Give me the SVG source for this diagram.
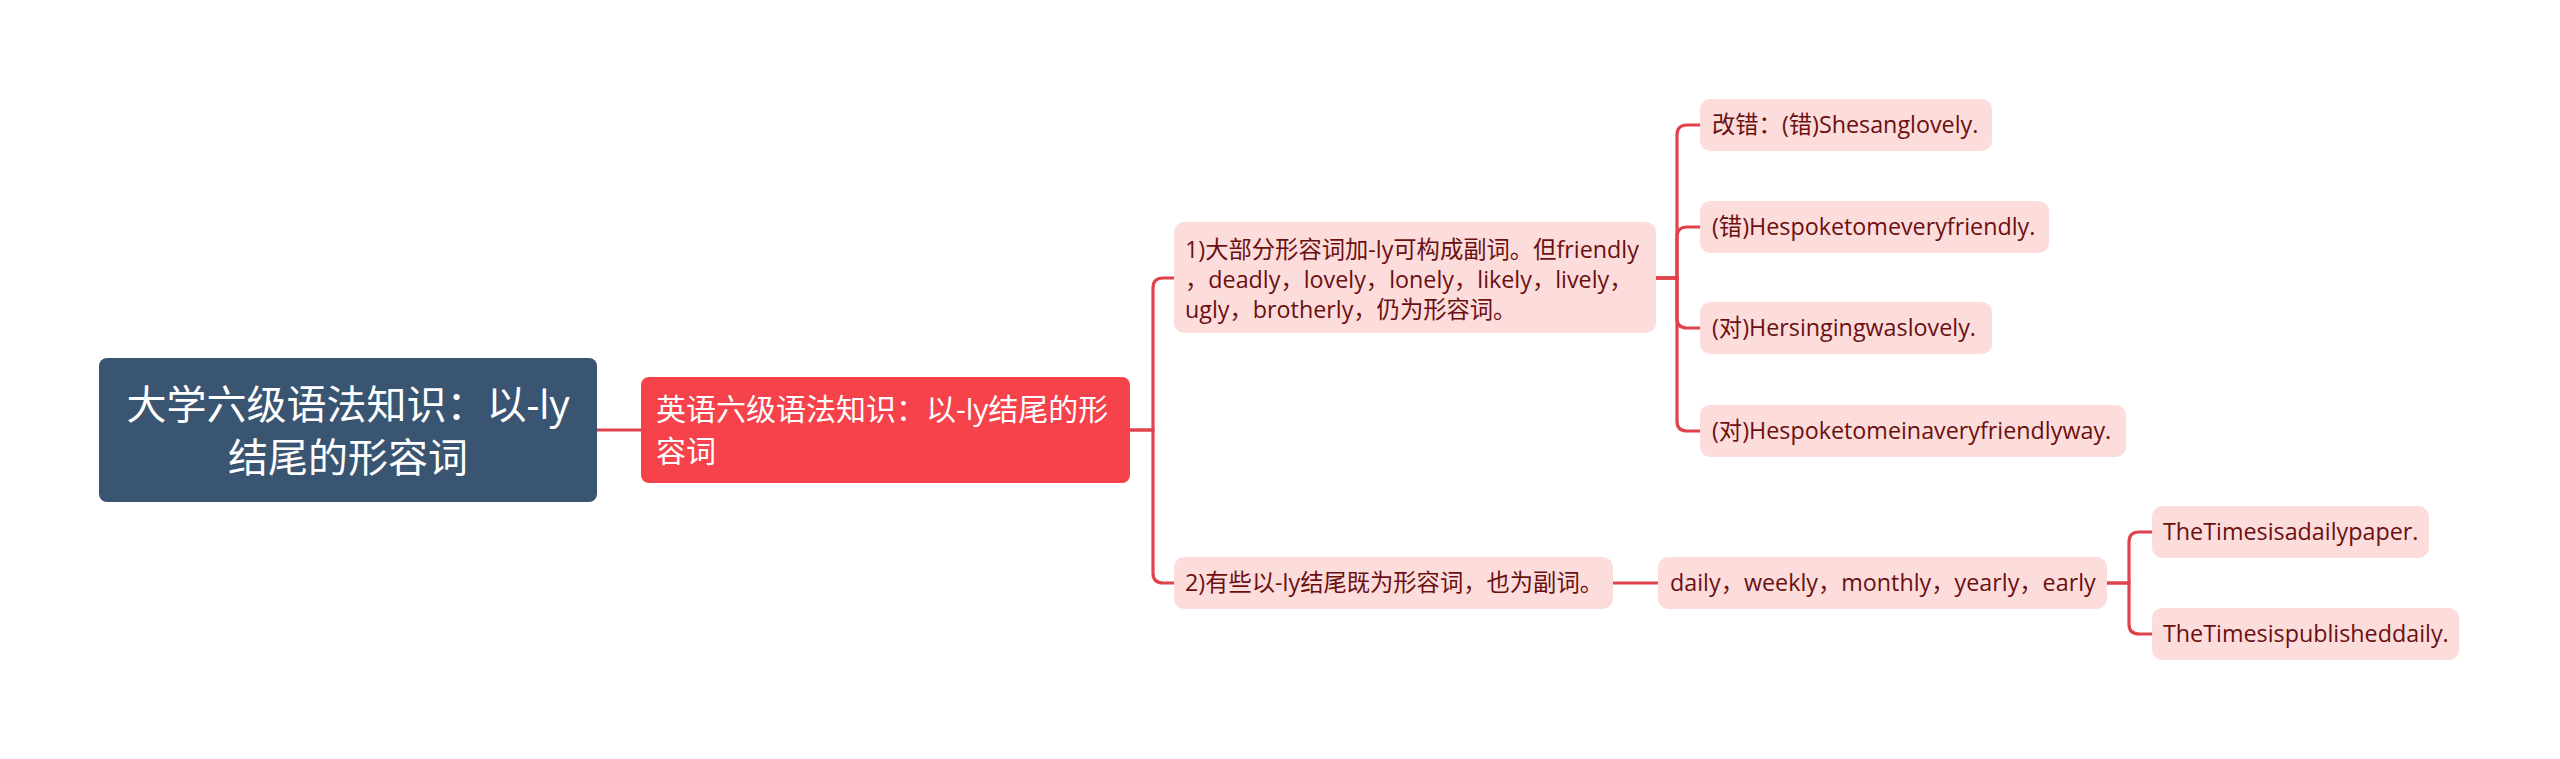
<svg xmlns="http://www.w3.org/2000/svg" width="2560" height="759" viewBox="0 0 2560 759">
<style>
.root-box{fill:#3a5572}
.l1-box{fill:#f6424a}
.leaf-box{fill:#fddcdc}
.t{font-family:"Open Sans","Noto Sans CJK SC",sans-serif}
.root-t{fill:#ffffff;font-size:40px;text-anchor:middle}
.l1-t{fill:#ffffff;font-size:30px}
.leaf-t{fill:#6b1010;font-size:23.3px}
.conn{fill:none;stroke:#e0434b;stroke-width:3.2;stroke-linecap:round}
</style>
<rect width="2560" height="759" fill="#ffffff"/>
<g id="connectors">
<path class="conn" d="M597,430 H641"/>
<path class="conn" d="M1130,430 H1153 V288 Q1153,278 1163,278 H1174"/>
<path class="conn" d="M1130,430 H1153 V573 Q1153,583 1163,583 H1174"/>
<path class="conn" d="M1656,278 H1677 V135 Q1677,125 1687,125 H1700"/>
<path class="conn" d="M1656,278 H1677 V237 Q1677,227 1687,227 H1700"/>
<path class="conn" d="M1656,278 H1677 V318 Q1677,328 1687,328 H1700"/>
<path class="conn" d="M1656,278 H1677 V421 Q1677,431 1687,431 H1700"/>
<path class="conn" d="M1613,583 H1658"/>
<path class="conn" d="M2107,583 H2129 V542 Q2129,532 2139,532 H2152"/>
<path class="conn" d="M2107,583 H2129 V624 Q2129,634 2139,634 H2152"/>
</g>
<g id="root">
<rect class="root-box" x="99" y="358" width="498" height="144" rx="8"/>
<text class="t root-t" x="348" y="419">大学六级语法知识：以-ly</text>
<text class="t root-t" x="348" y="472">结尾的形容词</text>
</g>
<g id="main-topic">
<rect class="l1-box" x="641" y="377" width="489" height="106" rx="8"/>
<text class="t l1-t" x="656" y="420">英语六级语法知识：以-ly结尾的形</text>
<text class="t l1-t" x="656" y="462">容词</text>
</g>
<g id="rule1">
<rect class="leaf-box" x="1174" y="222" width="482" height="111" rx="10"/>
<text class="t leaf-t" x="1185" y="258">1)大部分形容词加-ly可构成副词。但friendly</text>
<text class="t leaf-t" x="1185" y="288">，deadly，lovely，lonely，likely，lively，</text>
<text class="t leaf-t" x="1185" y="318">ugly，brotherly，仍为形容词。</text>
</g>
<g id="ex1">
<rect class="leaf-box" x="1700" y="99" width="292" height="52" rx="10"/>
<text class="t leaf-t" x="1712" y="133">改错：(错)Shesanglovely.</text>
</g>
<g id="ex2">
<rect class="leaf-box" x="1700" y="201" width="349" height="52" rx="10"/>
<text class="t leaf-t" x="1712" y="235">(错)Hespoketomeveryfriendly.</text>
</g>
<g id="ex3">
<rect class="leaf-box" x="1700" y="302" width="292" height="52" rx="10"/>
<text class="t leaf-t" x="1712" y="336">(对)Hersingingwaslovely.</text>
</g>
<g id="ex4">
<rect class="leaf-box" x="1700" y="405" width="426" height="52" rx="10"/>
<text class="t leaf-t" x="1712" y="439">(对)Hespoketomeinaveryfriendlyway.</text>
</g>
<g id="rule2">
<rect class="leaf-box" x="1174" y="557" width="439" height="52" rx="10"/>
<text class="t leaf-t" x="1185" y="591">2)有些以-ly结尾既为形容词，也为副词。</text>
</g>
<g id="words">
<rect class="leaf-box" x="1658" y="557" width="449" height="52" rx="10"/>
<text class="t leaf-t" x="1670" y="591">daily，weekly，monthly，yearly，early</text>
</g>
<g id="ex5">
<rect class="leaf-box" x="2152" y="506" width="277" height="52" rx="10"/>
<text class="t leaf-t" x="2163" y="540">TheTimesisadailypaper.</text>
</g>
<g id="ex6">
<rect class="leaf-box" x="2152" y="608" width="307" height="52" rx="10"/>
<text class="t leaf-t" x="2163" y="642">TheTimesispublisheddaily.</text>
</g>
</svg>
